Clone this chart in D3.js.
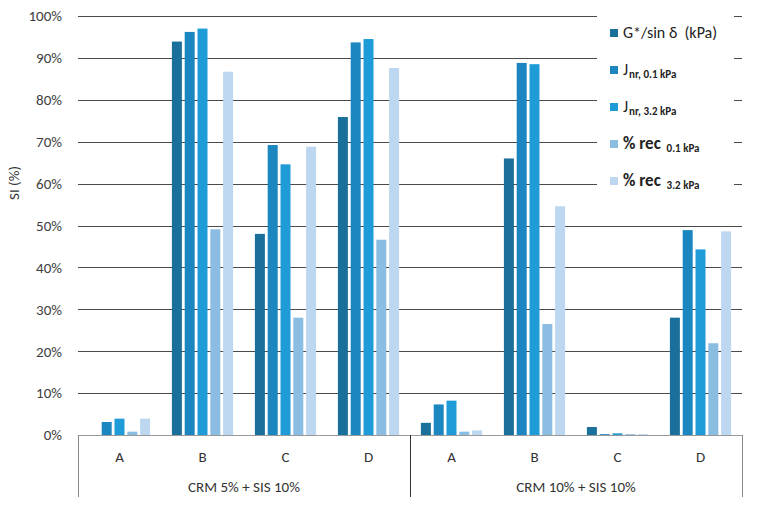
<!DOCTYPE html>
<html>
<head>
<meta charset="utf-8">
<script src="https://cdn.jsdelivr.net/npm/d3@7"></script>
<style>
  html, body { margin: 0; padding: 0; background: #fff; }
  svg { display: block; font-family: Carlito, Lato, "Open Sans", sans-serif; }
</style>
</head>
<body>
<svg id="chart" width="766" height="508"></svg>
<script>
// ---- data ----
const groups = ["CRM 5% + SIS 10%", "CRM 10% + SIS 10%"];
const categories = ["A", "B", "C", "D"];
const seriesKeys = ["G", "J01", "J32", "R01", "R32"];
const seriesColors = ["#1a6f9b", "#1b86c0", "#1f9bd8", "#8bbce2", "#bcd7ef"];
// values per series, ordered: group1 A,B,C,D then group2 A,B,C,D (percent)
const gValues   = [0,   93.9, 48.0, 75.9,   2.9, 66.0, 1.9, 28.0];
const j01Values = [3.1, 96.2, 69.2, 93.7,   7.3, 88.8, 0.2, 48.9];
const j32Values = [3.9, 97.0, 64.6, 94.5,   8.2, 88.5, 0.4, 44.3];
const r01Values = [0.8, 49.1, 28.0, 46.6,   0.8, 26.5, 0.2, 21.9];
const r32Values = [3.9, 86.7, 68.8, 87.6,   1.1, 54.6, 0.2, 48.6];
const yTicks = [0, 10, 20, 30, 40, 50, 60, 70, 80, 90, 100];

const allSeries = [gValues, j01Values, j32Values, r01Values, r32Values];
const slots = [];
groups.forEach((g, gi) => categories.forEach((c, ci) => slots.push({ group: g, gi, cat: c, id: gi + "-" + c })));

const svg = d3.select("#chart");
const pLeft = 78, pRight = 742, pTop = 16, pBottom = 435;

const x0 = d3.scaleBand().domain(slots.map(s => s.id)).range([pLeft, pRight]).padding(0);
const x1 = d3.scaleBand().domain(seriesKeys).range([0, x0.bandwidth()]).paddingInner(0.22).paddingOuter(0.85);
const y = d3.scaleLinear().domain([0, 100]).range([pBottom, pTop]);

// gridlines
svg.append("g").selectAll("line").data(yTicks.filter(t => t > 0)).join("line")
  .attr("x1", pLeft).attr("x2", pRight)
  .attr("y1", d => Math.round(y(d)) + 0.5).attr("y2", d => Math.round(y(d)) + 0.5)
  .attr("stroke", "#4a4a4a").attr("stroke-width", 1);

// y tick labels
const yAxis = d3.axisLeft(y).tickValues(yTicks).tickFormat(d => d + "%").tickSize(0).tickPadding(16);
const ya = svg.append("g").attr("transform", `translate(${pLeft},0)`).call(yAxis);
ya.select(".domain").remove();
ya.selectAll("text").attr("font-size", 15).attr("fill", "#404040").attr("font-family", "Carlito, Lato, sans-serif");

// bars
slots.forEach((s, i) => {
  svg.append("g").selectAll("rect").data(seriesKeys.map((k, si) => ({ k, si, v: allSeries[si][i] }))).join("rect")
    .attr("x", d => x0(s.id) + x1(d.k))
    .attr("width", x1.bandwidth())
    .attr("y", d => y(d.v))
    .attr("height", d => y(0) - y(d.v))
    .attr("fill", d => seriesColors[d.si]);
});

// baseline
svg.append("line").attr("x1", pLeft).attr("x2", pRight)
  .attr("y1", pBottom + 0.5).attr("y2", pBottom + 0.5).attr("stroke", "#999").attr("stroke-width", 1);

// category axis frame
const axisBottom = 497;
[pLeft, x0(slots[4].id), pRight].forEach((xx, i) => {
  svg.append("line").attr("x1", Math.round(xx) + 0.5).attr("x2", Math.round(xx) + 0.5)
    .attr("y1", pBottom).attr("y2", axisBottom)
    .attr("stroke", i === 1 ? "#333" : "#888").attr("stroke-width", 1);
});

// category labels
svg.append("g").selectAll("text").data(slots).join("text")
  .attr("x", d => x0(d.id) + x0.bandwidth() / 2)
  .attr("y", 462)
  .attr("text-anchor", "middle").attr("font-size", 15).attr("fill", "#333")
  .text(d => d.cat);

// group labels
svg.append("g").selectAll("text").data(groups).join("text")
  .attr("x", (d, gi) => (x0(gi + "-A") + x0(gi + "-D") + x0.bandwidth()) / 2)
  .attr("y", 492)
  .attr("text-anchor", "middle").attr("font-size", 15).attr("fill", "#333")
  .text(d => d);

// y title
svg.append("text").attr("transform", "translate(19,183) rotate(-90)")
  .attr("text-anchor", "middle").attr("font-size", 15).attr("fill", "#333")
  .text("SI (%)");

// legend
svg.append("rect").attr("x", 597).attr("y", 4).attr("width", 137).attr("height", 193).attr("fill", "#fff");
const leg = svg.append("g");
const legendRows = [
  { main: "G*/sin δ  (kPa)", sub: null, mainSize: 16, w: 400 },
  { main: "J", sub: "nr, 0.1 kPa", mainSize: 16, w: 400 },
  { main: "J", sub: "nr, 3.2 kPa", mainSize: 16, w: 400 },
  { main: "% rec ", sub: "0.1 kPa", mainSize: 17, w: 600 },
  { main: "% rec ", sub: "3.2 kPa", mainSize: 17, w: 600 }
];
legendRows.forEach((r, i) => {
  const cy = 33 + i * 37;
  leg.append("rect").attr("x", 610).attr("y", cy - 4).attr("width", 8).attr("height", 8).attr("fill", seriesColors[i]);
  const t = leg.append("text").attr("x", 623).attr("y", cy + 5).attr("fill", "#222").attr("xml:space", "preserve");
  t.append("tspan").attr("font-size", r.mainSize).attr("font-weight", r.w).text(r.main);
  if (r.sub) t.append("tspan").attr("font-size", 11).attr("font-weight", 600).attr("dy", 3).attr("dx", i >= 3 ? 2 : 1).text(r.sub);
});
</script>
</body>
</html>
